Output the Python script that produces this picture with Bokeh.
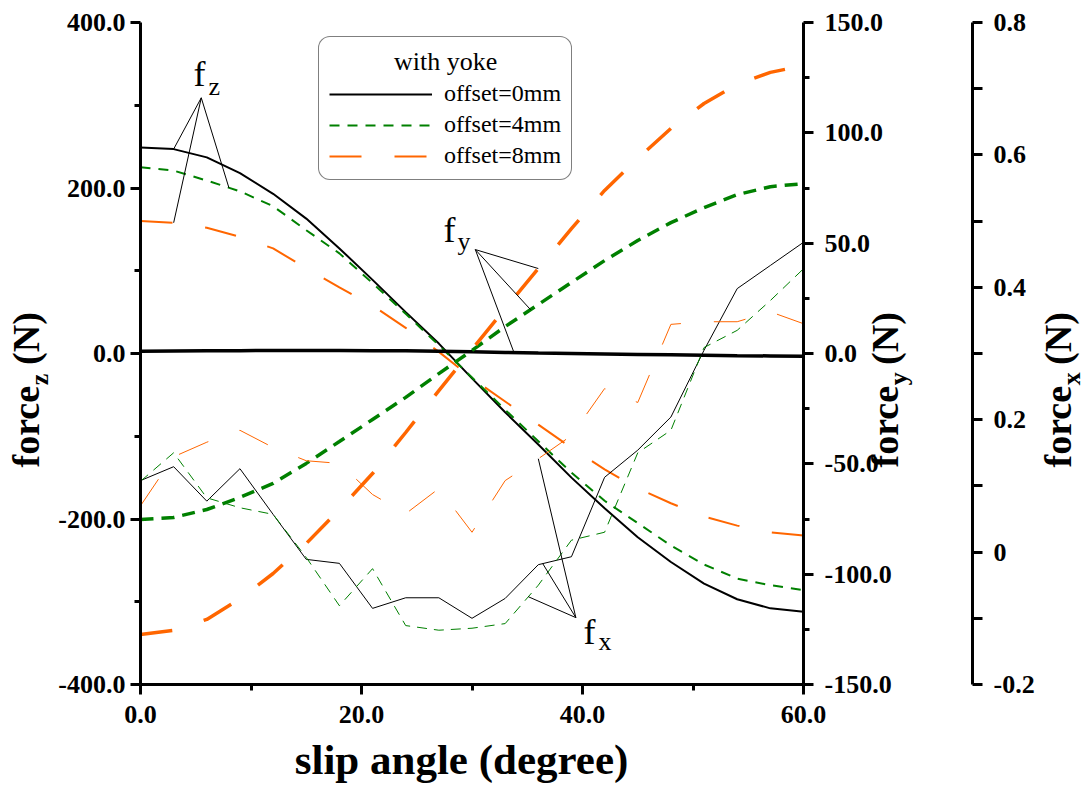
import numpy as np
from bokeh.plotting import figure
from bokeh.models import (Range1d, LinearAxis, FixedTicker, PrintfTickFormatter,
                          CustomJSTickFormatter, Label, Legend, LegendItem)
from bokeh.embed import file_html
from bokeh.resources import INLINE

# ---------------- data ----------------
slip_angle = [0, 3, 6, 9, 12, 15, 18, 21, 24, 27, 30, 33, 36, 39, 42, 45, 48, 51, 54, 57, 60]

# vertical force (left axis)
fz_0mm = [249, 247, 237, 218, 193, 163, 127, 89, 50, 12, -30, -71, -110, -150, -187, -222, -252, -278, -297, -308, -312]
fz_4mm = [225, 221, 209, 196, 178, 149, 121, 85, 48, 10, -29, -68, -106, -144, -178, -205, -232, -255, -272, -280, -286]
fz_8mm = [160, 158, 152, 141, 127, 103, 80, 58, 31, 2, -30, -58, -86, -114, -140, -163, -181, -197, -208, -216, -220]

# lateral force (first right axis)
fy_0mm = [1.0, 1.1, 1.2, 1.3, 1.4, 1.4, 1.4, 1.3, 1.2, 1.0, 0.8, 0.5, 0.2, 0.0, -0.2, -0.4, -0.6, -0.8, -1.0, -1.1, -1.2]
fy_4mm = [-75.2, -74.3, -70.7, -65.2, -58.9, -49.8, -39.9, -29.9, -19.9, -9.1, 1.4, 12.2, 22.2, 32.2, 42.1, 51.2, 59.3, 66.1, 72.0, 75.6, 77.0]
fy_8mm = [-127.3, -125.5, -120.5, -111.2, -99.7, -86.1, -70.7, -54.4, -35.8, -16.8, 1.8, 20.4, 38.5, 56.6, 73.9, 88.4, 102.0, 113.3, 122.0, 127.4, 130.5]

# longitudinal force (second right axis)
fx_0mm = [0.108, 0.129, 0.077, 0.126, 0.057, -0.011, -0.017, -0.085, -0.069, -0.069, -0.100, -0.070, -0.019, -0.007, 0.113, 0.154, 0.204, 0.305, 0.398, 0.433, 0.468]
fx_4mm = [0.107, 0.150, 0.082, 0.067, 0.057, -0.008, -0.081, -0.025, -0.111, -0.118, -0.115, -0.108, -0.050, 0.018, 0.030, 0.150, 0.184, 0.309, 0.335, 0.380, 0.428]
fx_8mm = [0.070, 0.144, 0.166, 0.184, 0.158, 0.138, 0.134, 0.087, 0.058, 0.096, 0.030, 0.108, 0.141, 0.176, 0.247, 0.226, 0.344, 0.348, 0.348, 0.363, 0.345]

series_labels = ["offset=0mm", "offset=4mm", "offset=8mm"]
legend_title = "with yoke"

x_lim = (0, 60)
fz_lim = (-400, 400)
fy_lim = (-150, 150)
fx_lim = (-0.2, 0.8)
x_ticks = [0, 20, 40, 60]
x_minor = [10, 30, 50]
fz_ticks = [-400, -200, 0, 200, 400]
fz_minor = [-300, -100, 100, 300]
fy_ticks = [-150, -100, -50, 0, 50, 100, 150]
fy_minor = [-125, -75, -25, 25, 75, 125]
fx_ticks = [-0.2, 0.0, 0.2, 0.4, 0.6, 0.8]
fx_minor = [-0.1, 0.1, 0.3, 0.5, 0.7]

# ---------------- layout / styles ----------------
FONT = "Liberation Serif"
BLACK = "#000000"
GREEN = "#008000"
ORANGE = "#FF6600"
colors = [BLACK, GREEN, ORANGE]

W, H = 1087, 785
FL, FT, FR, FB = 140, 22, 803, 684   # visual plot box in canvas pixels
FX_AXIS_PX = 972                     # position of the third (force_x) axis
BASE_SHIFT = 0.38                    # label anchor correction (fraction of font size)


def x_range_for(lo, hi):
    s = (hi - lo) / (FR - FL)
    return Range1d(lo - FL * s, hi + (W - FR) * s)


def y_range_for(lo, hi):
    s = (hi - lo) / (FB - FT)
    return Range1d(lo - (H - FB) * s, hi + FT * s)


p = figure(width=W, height=H, x_range=x_range_for(*x_lim), y_range=y_range_for(*fz_lim),
           output_backend="svg", toolbar_location=None,
           x_axis_location=None, y_axis_location=None,
           min_border=0, min_border_left=0, min_border_right=0,
           min_border_top=0, min_border_bottom=0)
p.extra_y_ranges = {"fy": y_range_for(*fy_lim), "fx": y_range_for(*fx_lim)}
p.outline_line_color = None
p.grid.visible = False
p.background_fill_color = "white"
p.border_fill_color = "white"


def style_axis(ax, standoff=8):
    ax.axis_line_width = 3
    ax.axis_line_color = BLACK
    ax.major_tick_line_width = 3
    ax.minor_tick_line_width = 3
    ax.major_tick_line_color = BLACK
    ax.minor_tick_line_color = BLACK
    ax.major_tick_out = 10
    ax.major_tick_in = 0
    ax.minor_tick_out = 6
    ax.minor_tick_in = 0
    ax.major_label_text_font = FONT
    ax.major_label_text_font_size = "26px"
    ax.major_label_text_font_style = "bold"
    ax.major_label_text_color = BLACK
    ax.major_label_standoff = standoff


fmt1 = PrintfTickFormatter(format="%.1f")

xa = LinearAxis(ticker=FixedTicker(ticks=x_ticks, minor_ticks=x_minor), formatter=fmt1,
                fixed_location=fz_lim[0], bounds=x_lim)
style_axis(xa, 11)
p.add_layout(xa, "below")

ya = LinearAxis(ticker=FixedTicker(ticks=fz_ticks, minor_ticks=fz_minor), formatter=fmt1,
                fixed_location=x_lim[0], bounds=fz_lim)
style_axis(ya, 5)
p.add_layout(ya, "left")

fy_axis = LinearAxis(y_range_name="fy", ticker=FixedTicker(ticks=fy_ticks, minor_ticks=fy_minor),
                     formatter=fmt1, fixed_location=x_lim[1], bounds=fy_lim)
style_axis(fy_axis, 11)
p.add_layout(fy_axis, "right")

fx_loc = x_lim[0] + (FX_AXIS_PX - FL) * (x_lim[1] - x_lim[0]) / (FR - FL)
fx_axis = LinearAxis(y_range_name="fx", ticker=FixedTicker(ticks=fx_ticks, minor_ticks=fx_minor),
                     formatter=CustomJSTickFormatter(code="return Math.abs(tick) < 1e-9 ? '0' : tick.toFixed(1);"),
                     fixed_location=fx_loc, bounds=fx_lim)
style_axis(fx_axis, 11)
fx_axis.minor_tick_out = 10
p.add_layout(fx_axis, "right")

# ---------------- lines ----------------
fz_dash = ["solid", "10 8", "32 33"]
fy_dash = ["solid", "13 8", "32 33"]
fx_dash = ["solid", "10 7", "32 33"]

fz_r = []
for ys, c, d in zip([fz_0mm, fz_4mm, fz_8mm], colors, fz_dash):
    fz_r.append(p.line(slip_angle, ys, line_color=c, line_width=2, line_dash=d))
for ys, c, d in zip([fy_0mm, fy_4mm, fy_8mm], colors, fy_dash):
    p.line(slip_angle, ys, line_color=c, line_width=3.5, line_dash=d, y_range_name="fy")
for ys, c, d in zip([fx_0mm, fx_4mm, fx_8mm], colors, fx_dash):
    p.line(slip_angle, ys, line_color=c, line_width=1, line_dash=d, y_range_name="fx")


# ---------------- leader lines for the series labels ----------------
def leaders(origin, targets, rng):
    ox, oy = origin
    x0, y0, x1, y1 = [], [], [], []
    for tx, ys in targets:
        x0.append(ox); y0.append(oy)
        x1.append(tx); y1.append(float(np.interp(tx, slip_angle, ys)))
    p.segment(x0, y0, x1, y1, line_color=BLACK, line_width=1, y_range_name=rng)


leaders((5.5, 309), [(3.0, fz_0mm), (3.0, fz_8mm), (8.0, fz_4mm)], "default")
leaders((30.3, 47.1), [(36.0, fy_8mm), (35.3, fy_4mm), (33.8, fy_0mm)], "fy")
leaders((39.4, -0.099), [(36.0, fx_8mm), (36.4, fx_0mm), (35.1, fx_4mm)], "fx")


# ---------------- texts (canvas pixel -> data coords of the fz scale) ----------------
def dx(px):
    return x_lim[0] + (px - FL) * (x_lim[1] - x_lim[0]) / (FR - FL)


def dy(py):
    return fz_lim[1] - (py - FT) * (fz_lim[1] - fz_lim[0]) / (FB - FT)


def text(t, px, py, size, bold=False, rotated=False, align="left"):
    if rotated:
        px = px - BASE_SHIFT * size
    else:
        py = py - BASE_SHIFT * size
    p.add_layout(Label(x=dx(px), y=dy(py), text=t, text_font=FONT,
                       text_font_size=f"{size}px",
                       text_font_style="bold" if bold else "normal",
                       text_color=BLACK, angle=np.pi / 2 if rotated else 0.0,
                       text_align=align, text_baseline="alphabetic"))


# series annotations f_z, f_y, f_x
for main_px, main_py, sub, sub_px, sub_py in [(193, 87, "z", 208, 96),
                                             (443, 243, "y", 457, 251),
                                             (583, 645, "x", 598, 651)]:
    text("f", main_px, main_py, 36)
    text(sub, sub_px, sub_py, 26)

# x axis title
text("slip angle (degree)", 461, 775, 43, bold=True, align="center")

# rotated axis titles "force_? (N)"
EM_FORCE = 2.165


def vtitle(sub, base_px, start_py, size=38, sub_size=26):
    text("force", base_px, start_py, size, bold=True, rotated=True)
    y = start_py - EM_FORCE * size
    text(sub, base_px + 9, y, sub_size, bold=True, rotated=True)
    y -= 0.45 * sub_size + 1
    text("\u2009(N)", base_px, y, size, bold=True, rotated=True)


vtitle("z", 40, 467)
vtitle("y", 899, 467)
vtitle("x", 1072, 467)

# ---------------- legend ----------------
leg_kwargs = dict(
    items=[LegendItem(label=l, renderers=[r]) for l, r in zip(series_labels, fz_r)],
    location=(318, H - 180),
    title="\u00a0" * 10 + legend_title,
    title_text_font=FONT, title_text_font_size="26px", title_text_font_style="normal",
    title_text_color=BLACK, title_standoff=3,
    label_text_font=FONT, label_text_font_size="24px", label_text_color=BLACK,
    glyph_width=103, glyph_height=20, label_height=20, label_standoff=12,
    spacing=4, padding=10, margin=0,
    border_line_color=BLACK, border_line_width=1.5,
    background_fill_color="white", background_fill_alpha=1.0,
)
if "border_radius" in Legend.properties():
    leg_kwargs["border_radius"] = 12
legend = Legend(**leg_kwargs)
p.add_layout(legend)

open("out.html", "w").write(file_html(p, INLINE))
